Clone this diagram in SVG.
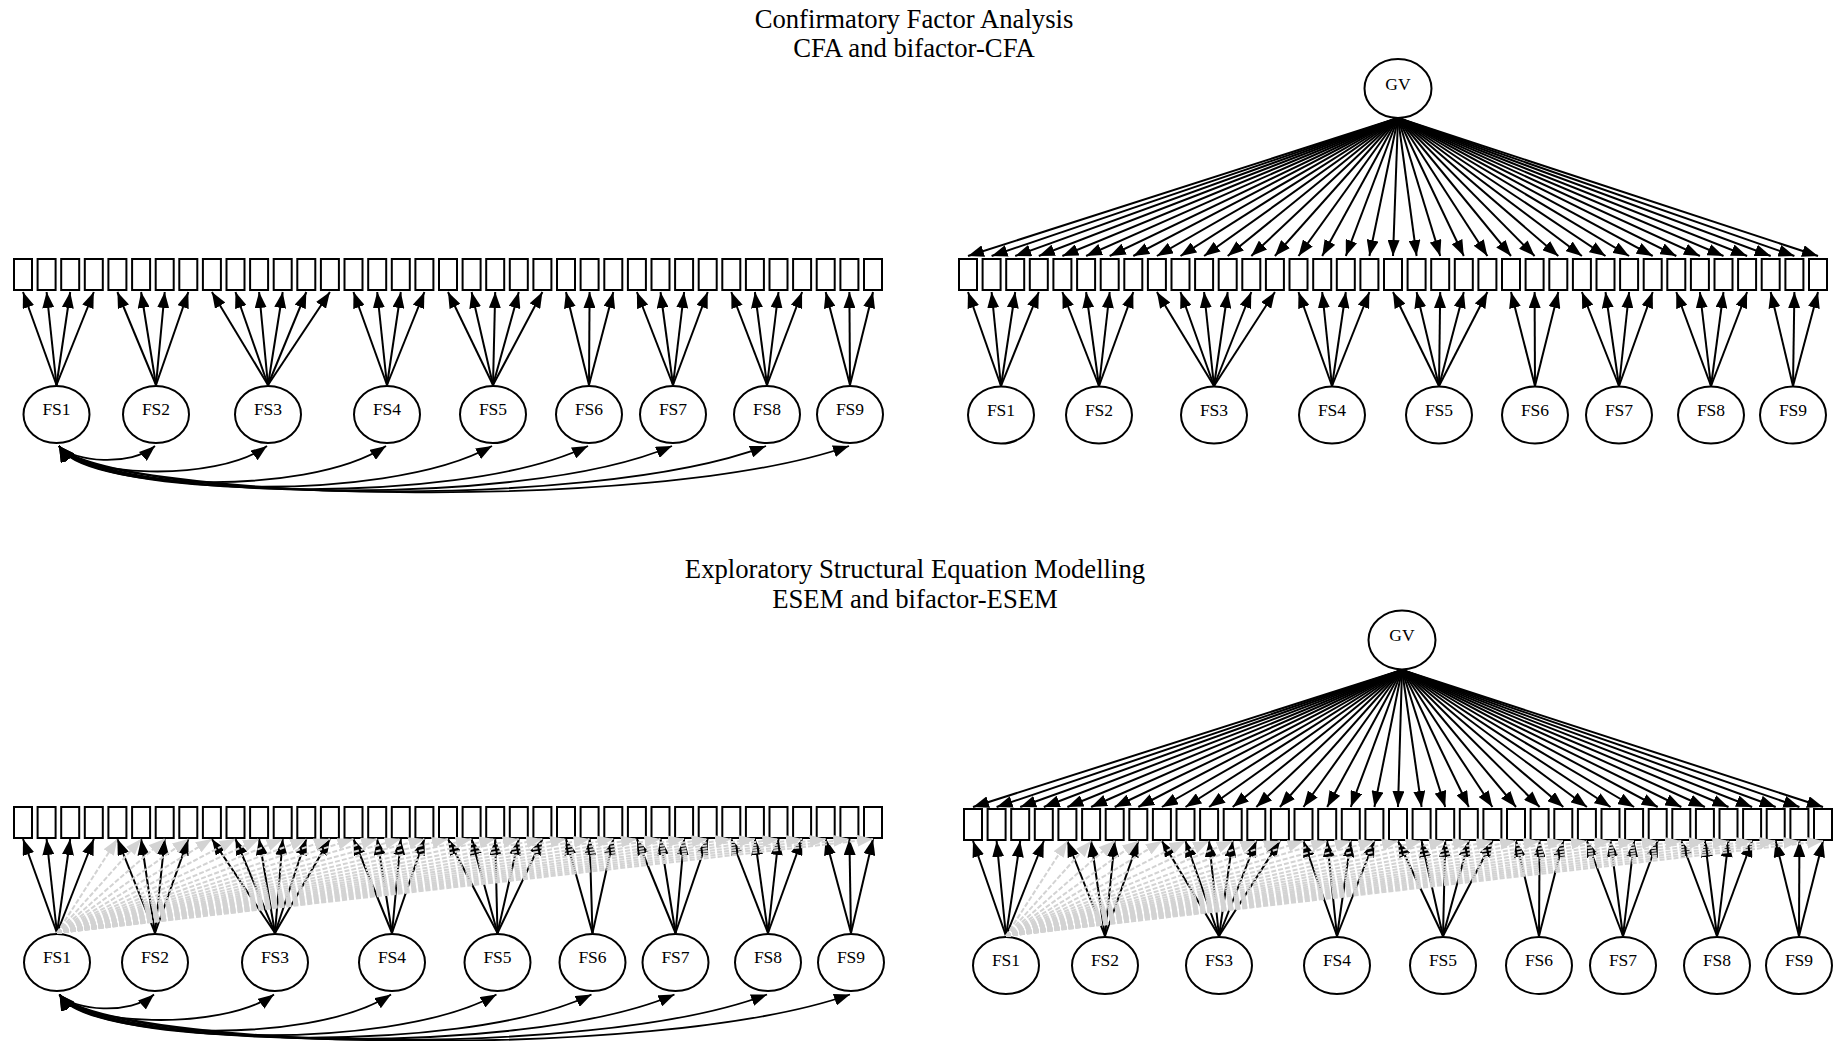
<svg xmlns="http://www.w3.org/2000/svg" xmlns:xlink="http://www.w3.org/1999/xlink" width="1836" height="1041" viewBox="0 0 1836 1041">
<style>
.box{fill:#fff;stroke:#000;stroke-width:2}
.lv{fill:#fff;stroke:#000;stroke-width:2}
.lbl{font-family:"Liberation Serif","Times New Roman",serif;font-size:17.5px;text-anchor:middle;fill:#000}
.ttl{font-family:"Liberation Serif","Times New Roman",serif;font-size:26.7px;text-anchor:middle;fill:#000}
.ld{stroke:#000;stroke-width:2;fill:none;marker-end:url(#ah)}
.cv{stroke:#000;stroke-width:1.8;fill:none;marker-start:url(#ahs);marker-end:url(#ah)}
.xl{stroke:#d3d3d3;stroke-width:2;stroke-dasharray:5 2;fill:none;marker-end:url(#ahg)}
</style>
<defs>
<rect id="bx" class="box" width="18" height="31"/>
<marker id="ah" viewBox="0 0 16 12" refX="16" refY="6" markerWidth="16" markerHeight="12" markerUnits="userSpaceOnUse" orient="auto"><path d="M0,0L16,6L0,12z" fill="#000"/></marker>
<marker id="ahs" viewBox="0 0 16 12" refX="16" refY="6" markerWidth="16" markerHeight="12" markerUnits="userSpaceOnUse" orient="auto-start-reverse"><path d="M0,0L16,6L0,12z" fill="#000"/></marker>
<marker id="ahg" viewBox="0 0 16 12" refX="16" refY="6" markerWidth="16" markerHeight="12" markerUnits="userSpaceOnUse" orient="auto"><path d="M0,0L16,6L0,12z" fill="#d3d3d3"/></marker>
</defs>
<rect width="1836" height="1041" fill="#fff"/>
<g id="titles">
<text class="ttl" x="914" y="28">Confirmatory Factor Analysis</text>
<text class="ttl" x="914" y="57">CFA and bifactor-CFA</text>
<text class="ttl" x="915" y="578">Exploratory Structural Equation Modelling</text>
<text class="ttl" x="915" y="608">ESEM and bifactor-ESEM</text>
</g>
<g id="cfa">
<g id="cfa-y1"><use href="#bx" x="14" y="259"/></g>
<g id="cfa-y2"><use href="#bx" x="37.6" y="259"/></g>
<g id="cfa-y3"><use href="#bx" x="61.2" y="259"/></g>
<g id="cfa-y4"><use href="#bx" x="84.8" y="259"/></g>
<g id="cfa-y5"><use href="#bx" x="108.4" y="259"/></g>
<g id="cfa-y6"><use href="#bx" x="132.1" y="259"/></g>
<g id="cfa-y7"><use href="#bx" x="155.7" y="259"/></g>
<g id="cfa-y8"><use href="#bx" x="179.3" y="259"/></g>
<g id="cfa-y9"><use href="#bx" x="202.9" y="259"/></g>
<g id="cfa-y10"><use href="#bx" x="226.5" y="259"/></g>
<g id="cfa-y11"><use href="#bx" x="250.1" y="259"/></g>
<g id="cfa-y12"><use href="#bx" x="273.7" y="259"/></g>
<g id="cfa-y13"><use href="#bx" x="297.3" y="259"/></g>
<g id="cfa-y14"><use href="#bx" x="320.9" y="259"/></g>
<g id="cfa-y15"><use href="#bx" x="344.5" y="259"/></g>
<g id="cfa-y16"><use href="#bx" x="368.2" y="259"/></g>
<g id="cfa-y17"><use href="#bx" x="391.8" y="259"/></g>
<g id="cfa-y18"><use href="#bx" x="415.4" y="259"/></g>
<g id="cfa-y19"><use href="#bx" x="439" y="259"/></g>
<g id="cfa-y20"><use href="#bx" x="462.6" y="259"/></g>
<g id="cfa-y21"><use href="#bx" x="486.2" y="259"/></g>
<g id="cfa-y22"><use href="#bx" x="509.8" y="259"/></g>
<g id="cfa-y23"><use href="#bx" x="533.4" y="259"/></g>
<g id="cfa-y24"><use href="#bx" x="557" y="259"/></g>
<g id="cfa-y25"><use href="#bx" x="580.6" y="259"/></g>
<g id="cfa-y26"><use href="#bx" x="604.3" y="259"/></g>
<g id="cfa-y27"><use href="#bx" x="627.9" y="259"/></g>
<g id="cfa-y28"><use href="#bx" x="651.5" y="259"/></g>
<g id="cfa-y29"><use href="#bx" x="675.1" y="259"/></g>
<g id="cfa-y30"><use href="#bx" x="698.7" y="259"/></g>
<g id="cfa-y31"><use href="#bx" x="722.3" y="259"/></g>
<g id="cfa-y32"><use href="#bx" x="745.9" y="259"/></g>
<g id="cfa-y33"><use href="#bx" x="769.5" y="259"/></g>
<g id="cfa-y34"><use href="#bx" x="793.1" y="259"/></g>
<g id="cfa-y35"><use href="#bx" x="816.7" y="259"/></g>
<g id="cfa-y36"><use href="#bx" x="840.4" y="259"/></g>
<g id="cfa-y37"><use href="#bx" x="864" y="259"/></g>
<g id="cfa-FS1"><ellipse class="lv" cx="56.5" cy="414.5" rx="33" ry="28.5"/><text class="lbl" x="56.5" y="415">FS1</text></g>
<g id="cfa-FS2"><ellipse class="lv" cx="156" cy="414.5" rx="33" ry="28.5"/><text class="lbl" x="156" y="415">FS2</text></g>
<g id="cfa-FS3"><ellipse class="lv" cx="268" cy="414.5" rx="33" ry="28.5"/><text class="lbl" x="268" y="415">FS3</text></g>
<g id="cfa-FS4"><ellipse class="lv" cx="387" cy="414.5" rx="33" ry="28.5"/><text class="lbl" x="387" y="415">FS4</text></g>
<g id="cfa-FS5"><ellipse class="lv" cx="493" cy="414.5" rx="33" ry="28.5"/><text class="lbl" x="493" y="415">FS5</text></g>
<g id="cfa-FS6"><ellipse class="lv" cx="589" cy="414.5" rx="33" ry="28.5"/><text class="lbl" x="589" y="415">FS6</text></g>
<g id="cfa-FS7"><ellipse class="lv" cx="673" cy="414.5" rx="33" ry="28.5"/><text class="lbl" x="673" y="415">FS7</text></g>
<g id="cfa-FS8"><ellipse class="lv" cx="767" cy="414.5" rx="33" ry="28.5"/><text class="lbl" x="767" y="415">FS8</text></g>
<g id="cfa-FS9"><ellipse class="lv" cx="850" cy="414.5" rx="33" ry="28.5"/><text class="lbl" x="850" y="415">FS9</text></g>
</g>
<g id="bcfa">
<g id="bcfa-y1"><use href="#bx" x="959" y="259"/></g>
<g id="bcfa-y2"><use href="#bx" x="982.6" y="259"/></g>
<g id="bcfa-y3"><use href="#bx" x="1006.2" y="259"/></g>
<g id="bcfa-y4"><use href="#bx" x="1029.8" y="259"/></g>
<g id="bcfa-y5"><use href="#bx" x="1053.4" y="259"/></g>
<g id="bcfa-y6"><use href="#bx" x="1077.1" y="259"/></g>
<g id="bcfa-y7"><use href="#bx" x="1100.7" y="259"/></g>
<g id="bcfa-y8"><use href="#bx" x="1124.3" y="259"/></g>
<g id="bcfa-y9"><use href="#bx" x="1147.9" y="259"/></g>
<g id="bcfa-y10"><use href="#bx" x="1171.5" y="259"/></g>
<g id="bcfa-y11"><use href="#bx" x="1195.1" y="259"/></g>
<g id="bcfa-y12"><use href="#bx" x="1218.7" y="259"/></g>
<g id="bcfa-y13"><use href="#bx" x="1242.3" y="259"/></g>
<g id="bcfa-y14"><use href="#bx" x="1265.9" y="259"/></g>
<g id="bcfa-y15"><use href="#bx" x="1289.5" y="259"/></g>
<g id="bcfa-y16"><use href="#bx" x="1313.2" y="259"/></g>
<g id="bcfa-y17"><use href="#bx" x="1336.8" y="259"/></g>
<g id="bcfa-y18"><use href="#bx" x="1360.4" y="259"/></g>
<g id="bcfa-y19"><use href="#bx" x="1384" y="259"/></g>
<g id="bcfa-y20"><use href="#bx" x="1407.6" y="259"/></g>
<g id="bcfa-y21"><use href="#bx" x="1431.2" y="259"/></g>
<g id="bcfa-y22"><use href="#bx" x="1454.8" y="259"/></g>
<g id="bcfa-y23"><use href="#bx" x="1478.4" y="259"/></g>
<g id="bcfa-y24"><use href="#bx" x="1502" y="259"/></g>
<g id="bcfa-y25"><use href="#bx" x="1525.6" y="259"/></g>
<g id="bcfa-y26"><use href="#bx" x="1549.3" y="259"/></g>
<g id="bcfa-y27"><use href="#bx" x="1572.9" y="259"/></g>
<g id="bcfa-y28"><use href="#bx" x="1596.5" y="259"/></g>
<g id="bcfa-y29"><use href="#bx" x="1620.1" y="259"/></g>
<g id="bcfa-y30"><use href="#bx" x="1643.7" y="259"/></g>
<g id="bcfa-y31"><use href="#bx" x="1667.3" y="259"/></g>
<g id="bcfa-y32"><use href="#bx" x="1690.9" y="259"/></g>
<g id="bcfa-y33"><use href="#bx" x="1714.5" y="259"/></g>
<g id="bcfa-y34"><use href="#bx" x="1738.1" y="259"/></g>
<g id="bcfa-y35"><use href="#bx" x="1761.7" y="259"/></g>
<g id="bcfa-y36"><use href="#bx" x="1785.4" y="259"/></g>
<g id="bcfa-y37"><use href="#bx" x="1809" y="259"/></g>
<g id="bcfa-GV"><ellipse class="lv" cx="1398" cy="88.5" rx="33.5" ry="29.5"/><text class="lbl" x="1398" y="89.5">GV</text></g>
<g id="bcfa-FS1"><ellipse class="lv" cx="1001" cy="415" rx="33" ry="28.5"/><text class="lbl" x="1001" y="415.5">FS1</text></g>
<g id="bcfa-FS2"><ellipse class="lv" cx="1099" cy="415" rx="33" ry="28.5"/><text class="lbl" x="1099" y="415.5">FS2</text></g>
<g id="bcfa-FS3"><ellipse class="lv" cx="1214" cy="415" rx="33" ry="28.5"/><text class="lbl" x="1214" y="415.5">FS3</text></g>
<g id="bcfa-FS4"><ellipse class="lv" cx="1332" cy="415" rx="33" ry="28.5"/><text class="lbl" x="1332" y="415.5">FS4</text></g>
<g id="bcfa-FS5"><ellipse class="lv" cx="1439" cy="415" rx="33" ry="28.5"/><text class="lbl" x="1439" y="415.5">FS5</text></g>
<g id="bcfa-FS6"><ellipse class="lv" cx="1535" cy="415" rx="33" ry="28.5"/><text class="lbl" x="1535" y="415.5">FS6</text></g>
<g id="bcfa-FS7"><ellipse class="lv" cx="1619" cy="415" rx="33" ry="28.5"/><text class="lbl" x="1619" y="415.5">FS7</text></g>
<g id="bcfa-FS8"><ellipse class="lv" cx="1711" cy="415" rx="33" ry="28.5"/><text class="lbl" x="1711" y="415.5">FS8</text></g>
<g id="bcfa-FS9"><ellipse class="lv" cx="1793" cy="415" rx="33" ry="28.5"/><text class="lbl" x="1793" y="415.5">FS9</text></g>
</g>
<g id="esem">
<g id="esem-y1"><use href="#bx" x="14" y="807"/></g>
<g id="esem-y2"><use href="#bx" x="37.6" y="807"/></g>
<g id="esem-y3"><use href="#bx" x="61.2" y="807"/></g>
<g id="esem-y4"><use href="#bx" x="84.8" y="807"/></g>
<g id="esem-y5"><use href="#bx" x="108.4" y="807"/></g>
<g id="esem-y6"><use href="#bx" x="132.1" y="807"/></g>
<g id="esem-y7"><use href="#bx" x="155.7" y="807"/></g>
<g id="esem-y8"><use href="#bx" x="179.3" y="807"/></g>
<g id="esem-y9"><use href="#bx" x="202.9" y="807"/></g>
<g id="esem-y10"><use href="#bx" x="226.5" y="807"/></g>
<g id="esem-y11"><use href="#bx" x="250.1" y="807"/></g>
<g id="esem-y12"><use href="#bx" x="273.7" y="807"/></g>
<g id="esem-y13"><use href="#bx" x="297.3" y="807"/></g>
<g id="esem-y14"><use href="#bx" x="320.9" y="807"/></g>
<g id="esem-y15"><use href="#bx" x="344.5" y="807"/></g>
<g id="esem-y16"><use href="#bx" x="368.2" y="807"/></g>
<g id="esem-y17"><use href="#bx" x="391.8" y="807"/></g>
<g id="esem-y18"><use href="#bx" x="415.4" y="807"/></g>
<g id="esem-y19"><use href="#bx" x="439" y="807"/></g>
<g id="esem-y20"><use href="#bx" x="462.6" y="807"/></g>
<g id="esem-y21"><use href="#bx" x="486.2" y="807"/></g>
<g id="esem-y22"><use href="#bx" x="509.8" y="807"/></g>
<g id="esem-y23"><use href="#bx" x="533.4" y="807"/></g>
<g id="esem-y24"><use href="#bx" x="557" y="807"/></g>
<g id="esem-y25"><use href="#bx" x="580.6" y="807"/></g>
<g id="esem-y26"><use href="#bx" x="604.3" y="807"/></g>
<g id="esem-y27"><use href="#bx" x="627.9" y="807"/></g>
<g id="esem-y28"><use href="#bx" x="651.5" y="807"/></g>
<g id="esem-y29"><use href="#bx" x="675.1" y="807"/></g>
<g id="esem-y30"><use href="#bx" x="698.7" y="807"/></g>
<g id="esem-y31"><use href="#bx" x="722.3" y="807"/></g>
<g id="esem-y32"><use href="#bx" x="745.9" y="807"/></g>
<g id="esem-y33"><use href="#bx" x="769.5" y="807"/></g>
<g id="esem-y34"><use href="#bx" x="793.1" y="807"/></g>
<g id="esem-y35"><use href="#bx" x="816.7" y="807"/></g>
<g id="esem-y36"><use href="#bx" x="840.4" y="807"/></g>
<g id="esem-y37"><use href="#bx" x="864" y="807"/></g>
<g id="esem-FS1"><ellipse class="lv" cx="57" cy="962.5" rx="33" ry="28.5"/><text class="lbl" x="57" y="963">FS1</text></g>
<g id="esem-FS2"><ellipse class="lv" cx="155" cy="962.5" rx="33" ry="28.5"/><text class="lbl" x="155" y="963">FS2</text></g>
<g id="esem-FS3"><ellipse class="lv" cx="275" cy="962.5" rx="33" ry="28.5"/><text class="lbl" x="275" y="963">FS3</text></g>
<g id="esem-FS4"><ellipse class="lv" cx="392" cy="962.5" rx="33" ry="28.5"/><text class="lbl" x="392" y="963">FS4</text></g>
<g id="esem-FS5"><ellipse class="lv" cx="497.5" cy="962.5" rx="33" ry="28.5"/><text class="lbl" x="497.5" y="963">FS5</text></g>
<g id="esem-FS6"><ellipse class="lv" cx="592.5" cy="962.5" rx="33" ry="28.5"/><text class="lbl" x="592.5" y="963">FS6</text></g>
<g id="esem-FS7"><ellipse class="lv" cx="675.5" cy="962.5" rx="33" ry="28.5"/><text class="lbl" x="675.5" y="963">FS7</text></g>
<g id="esem-FS8"><ellipse class="lv" cx="768" cy="962.5" rx="33" ry="28.5"/><text class="lbl" x="768" y="963">FS8</text></g>
<g id="esem-FS9"><ellipse class="lv" cx="851" cy="962.5" rx="33" ry="28.5"/><text class="lbl" x="851" y="963">FS9</text></g>
</g>
<g id="besem">
<g id="besem-y1"><use href="#bx" x="964" y="809"/></g>
<g id="besem-y2"><use href="#bx" x="987.6" y="809"/></g>
<g id="besem-y3"><use href="#bx" x="1011.2" y="809"/></g>
<g id="besem-y4"><use href="#bx" x="1034.8" y="809"/></g>
<g id="besem-y5"><use href="#bx" x="1058.4" y="809"/></g>
<g id="besem-y6"><use href="#bx" x="1082.1" y="809"/></g>
<g id="besem-y7"><use href="#bx" x="1105.7" y="809"/></g>
<g id="besem-y8"><use href="#bx" x="1129.3" y="809"/></g>
<g id="besem-y9"><use href="#bx" x="1152.9" y="809"/></g>
<g id="besem-y10"><use href="#bx" x="1176.5" y="809"/></g>
<g id="besem-y11"><use href="#bx" x="1200.1" y="809"/></g>
<g id="besem-y12"><use href="#bx" x="1223.7" y="809"/></g>
<g id="besem-y13"><use href="#bx" x="1247.3" y="809"/></g>
<g id="besem-y14"><use href="#bx" x="1270.9" y="809"/></g>
<g id="besem-y15"><use href="#bx" x="1294.5" y="809"/></g>
<g id="besem-y16"><use href="#bx" x="1318.2" y="809"/></g>
<g id="besem-y17"><use href="#bx" x="1341.8" y="809"/></g>
<g id="besem-y18"><use href="#bx" x="1365.4" y="809"/></g>
<g id="besem-y19"><use href="#bx" x="1389" y="809"/></g>
<g id="besem-y20"><use href="#bx" x="1412.6" y="809"/></g>
<g id="besem-y21"><use href="#bx" x="1436.2" y="809"/></g>
<g id="besem-y22"><use href="#bx" x="1459.8" y="809"/></g>
<g id="besem-y23"><use href="#bx" x="1483.4" y="809"/></g>
<g id="besem-y24"><use href="#bx" x="1507" y="809"/></g>
<g id="besem-y25"><use href="#bx" x="1530.6" y="809"/></g>
<g id="besem-y26"><use href="#bx" x="1554.3" y="809"/></g>
<g id="besem-y27"><use href="#bx" x="1577.9" y="809"/></g>
<g id="besem-y28"><use href="#bx" x="1601.5" y="809"/></g>
<g id="besem-y29"><use href="#bx" x="1625.1" y="809"/></g>
<g id="besem-y30"><use href="#bx" x="1648.7" y="809"/></g>
<g id="besem-y31"><use href="#bx" x="1672.3" y="809"/></g>
<g id="besem-y32"><use href="#bx" x="1695.9" y="809"/></g>
<g id="besem-y33"><use href="#bx" x="1719.5" y="809"/></g>
<g id="besem-y34"><use href="#bx" x="1743.1" y="809"/></g>
<g id="besem-y35"><use href="#bx" x="1766.7" y="809"/></g>
<g id="besem-y36"><use href="#bx" x="1790.4" y="809"/></g>
<g id="besem-y37"><use href="#bx" x="1814" y="809"/></g>
<g id="besem-GV"><ellipse class="lv" cx="1402" cy="640" rx="33.5" ry="29.5"/><text class="lbl" x="1402" y="641">GV</text></g>
<g id="besem-FS1"><ellipse class="lv" cx="1006" cy="965.5" rx="33" ry="28.5"/><text class="lbl" x="1006" y="966">FS1</text></g>
<g id="besem-FS2"><ellipse class="lv" cx="1105" cy="965.5" rx="33" ry="28.5"/><text class="lbl" x="1105" y="966">FS2</text></g>
<g id="besem-FS3"><ellipse class="lv" cx="1219" cy="965.5" rx="33" ry="28.5"/><text class="lbl" x="1219" y="966">FS3</text></g>
<g id="besem-FS4"><ellipse class="lv" cx="1337" cy="965.5" rx="33" ry="28.5"/><text class="lbl" x="1337" y="966">FS4</text></g>
<g id="besem-FS5"><ellipse class="lv" cx="1443" cy="965.5" rx="33" ry="28.5"/><text class="lbl" x="1443" y="966">FS5</text></g>
<g id="besem-FS6"><ellipse class="lv" cx="1539" cy="965.5" rx="33" ry="28.5"/><text class="lbl" x="1539" y="966">FS6</text></g>
<g id="besem-FS7"><ellipse class="lv" cx="1623" cy="965.5" rx="33" ry="28.5"/><text class="lbl" x="1623" y="966">FS7</text></g>
<g id="besem-FS8"><ellipse class="lv" cx="1717" cy="965.5" rx="33" ry="28.5"/><text class="lbl" x="1717" y="966">FS8</text></g>
<g id="besem-FS9"><ellipse class="lv" cx="1799" cy="965.5" rx="33" ry="28.5"/><text class="lbl" x="1799" y="966">FS9</text></g>
</g>
<g id="connectors">
<g id="cfa-loadings">
<path class="ld" d="M56.5 385L23 292"/><path class="ld" d="M56.5 385L46.6 292"/><path class="ld" d="M56.5 385L70.2 292"/><path class="ld" d="M56.5 385L93.8 292"/>
<path class="ld" d="M156 385L117.4 292"/><path class="ld" d="M156 385L141.1 292"/><path class="ld" d="M156 385L164.7 292"/><path class="ld" d="M156 385L188.3 292"/>
<path class="ld" d="M268 385L211.9 292"/><path class="ld" d="M268 385L235.5 292"/><path class="ld" d="M268 385L259.1 292"/><path class="ld" d="M268 385L282.7 292"/><path class="ld" d="M268 385L306.3 292"/><path class="ld" d="M268 385L329.9 292"/>
<path class="ld" d="M387 385L353.5 292"/><path class="ld" d="M387 385L377.2 292"/><path class="ld" d="M387 385L400.8 292"/><path class="ld" d="M387 385L424.4 292"/>
<path class="ld" d="M493 385L448 292"/><path class="ld" d="M493 385L471.6 292"/><path class="ld" d="M493 385L495.2 292"/><path class="ld" d="M493 385L518.8 292"/><path class="ld" d="M493 385L542.4 292"/>
<path class="ld" d="M589 385L566 292"/><path class="ld" d="M589 385L589.6 292"/><path class="ld" d="M589 385L613.3 292"/>
<path class="ld" d="M673 385L636.9 292"/><path class="ld" d="M673 385L660.5 292"/><path class="ld" d="M673 385L684.1 292"/><path class="ld" d="M673 385L707.7 292"/>
<path class="ld" d="M767 385L731.3 292"/><path class="ld" d="M767 385L754.9 292"/><path class="ld" d="M767 385L778.5 292"/><path class="ld" d="M767 385L802.1 292"/>
<path class="ld" d="M850 385L825.7 292"/><path class="ld" d="M850 385L849.4 292"/><path class="ld" d="M850 385L873 292"/>
</g>
<g id="cfa-covariances">
<path class="cv" d="M59 446C74 462.2 131 466.7 155 446"/>
<path class="cv" d="M59 446C74 475.7 215 484 267 446"/>
<path class="cv" d="M59 446C80.3 488.1 304.2 499.8 386 446"/>
<path class="cv" d="M59 446C87.1 493.5 383.7 506.7 492 446"/>
<path class="cv" d="M59 446C93.4 496.2 455.7 510.2 588 446"/>
<path class="cv" d="M59 446C98.8 497.8 518.7 512.2 672 446"/>
<path class="cv" d="M59 446C105 498.9 589.2 513.6 766 446"/>
<path class="cv" d="M59 446C110.4 500 651.5 515 849 446"/>
</g>
<g id="bcfa-general">
<path class="ld" d="M1398 118L968 256"/><path class="ld" d="M1398 118L991.6 256"/><path class="ld" d="M1398 118L1015.2 256"/><path class="ld" d="M1398 118L1038.8 256"/><path class="ld" d="M1398 118L1062.4 256"/><path class="ld" d="M1398 118L1086.1 256"/><path class="ld" d="M1398 118L1109.7 256"/><path class="ld" d="M1398 118L1133.3 256"/><path class="ld" d="M1398 118L1156.9 256"/><path class="ld" d="M1398 118L1180.5 256"/><path class="ld" d="M1398 118L1204.1 256"/><path class="ld" d="M1398 118L1227.7 256"/><path class="ld" d="M1398 118L1251.3 256"/><path class="ld" d="M1398 118L1274.9 256"/><path class="ld" d="M1398 118L1298.5 256"/><path class="ld" d="M1398 118L1322.2 256"/><path class="ld" d="M1398 118L1345.8 256"/><path class="ld" d="M1398 118L1369.4 256"/><path class="ld" d="M1398 118L1393 256"/><path class="ld" d="M1398 118L1416.6 256"/><path class="ld" d="M1398 118L1440.2 256"/><path class="ld" d="M1398 118L1463.8 256"/><path class="ld" d="M1398 118L1487.4 256"/><path class="ld" d="M1398 118L1511 256"/><path class="ld" d="M1398 118L1534.6 256"/><path class="ld" d="M1398 118L1558.3 256"/><path class="ld" d="M1398 118L1581.9 256"/><path class="ld" d="M1398 118L1605.5 256"/><path class="ld" d="M1398 118L1629.1 256"/><path class="ld" d="M1398 118L1652.7 256"/><path class="ld" d="M1398 118L1676.3 256"/><path class="ld" d="M1398 118L1699.9 256"/><path class="ld" d="M1398 118L1723.5 256"/><path class="ld" d="M1398 118L1747.1 256"/><path class="ld" d="M1398 118L1770.7 256"/><path class="ld" d="M1398 118L1794.4 256"/><path class="ld" d="M1398 118L1818 256"/>
</g>
<g id="bcfa-loadings">
<path class="ld" d="M1001 386L968 292"/><path class="ld" d="M1001 386L991.6 292"/><path class="ld" d="M1001 386L1015.2 292"/><path class="ld" d="M1001 386L1038.8 292"/>
<path class="ld" d="M1099 386L1062.4 292"/><path class="ld" d="M1099 386L1086.1 292"/><path class="ld" d="M1099 386L1109.7 292"/><path class="ld" d="M1099 386L1133.3 292"/>
<path class="ld" d="M1214 386L1156.9 292"/><path class="ld" d="M1214 386L1180.5 292"/><path class="ld" d="M1214 386L1204.1 292"/><path class="ld" d="M1214 386L1227.7 292"/><path class="ld" d="M1214 386L1251.3 292"/><path class="ld" d="M1214 386L1274.9 292"/>
<path class="ld" d="M1332 386L1298.5 292"/><path class="ld" d="M1332 386L1322.2 292"/><path class="ld" d="M1332 386L1345.8 292"/><path class="ld" d="M1332 386L1369.4 292"/>
<path class="ld" d="M1439 386L1393 292"/><path class="ld" d="M1439 386L1416.6 292"/><path class="ld" d="M1439 386L1440.2 292"/><path class="ld" d="M1439 386L1463.8 292"/><path class="ld" d="M1439 386L1487.4 292"/>
<path class="ld" d="M1535 386L1511 292"/><path class="ld" d="M1535 386L1534.6 292"/><path class="ld" d="M1535 386L1558.3 292"/>
<path class="ld" d="M1619 386L1581.9 292"/><path class="ld" d="M1619 386L1605.5 292"/><path class="ld" d="M1619 386L1629.1 292"/><path class="ld" d="M1619 386L1652.7 292"/>
<path class="ld" d="M1711 386L1676.3 292"/><path class="ld" d="M1711 386L1699.9 292"/><path class="ld" d="M1711 386L1723.5 292"/><path class="ld" d="M1711 386L1747.1 292"/>
<path class="ld" d="M1793 386L1770.7 292"/><path class="ld" d="M1793 386L1794.4 292"/><path class="ld" d="M1793 386L1818 292"/>
</g>
<g id="esem-loadings">
<path class="ld" d="M57 933L23 839"/><path class="ld" d="M57 933L46.6 839"/><path class="ld" d="M57 933L70.2 839"/><path class="ld" d="M57 933L93.8 839"/>
<path class="ld" d="M155 933L117.4 839"/><path class="ld" d="M155 933L141.1 839"/><path class="ld" d="M155 933L164.7 839"/><path class="ld" d="M155 933L188.3 839"/>
<path class="ld" d="M275 933L211.9 839"/><path class="ld" d="M275 933L235.5 839"/><path class="ld" d="M275 933L259.1 839"/><path class="ld" d="M275 933L282.7 839"/><path class="ld" d="M275 933L306.3 839"/><path class="ld" d="M275 933L329.9 839"/>
<path class="ld" d="M392 933L353.5 839"/><path class="ld" d="M392 933L377.2 839"/><path class="ld" d="M392 933L400.8 839"/><path class="ld" d="M392 933L424.4 839"/>
<path class="ld" d="M497.5 933L448 839"/><path class="ld" d="M497.5 933L471.6 839"/><path class="ld" d="M497.5 933L495.2 839"/><path class="ld" d="M497.5 933L518.8 839"/><path class="ld" d="M497.5 933L542.4 839"/>
<path class="ld" d="M592.5 933L566 839"/><path class="ld" d="M592.5 933L589.6 839"/><path class="ld" d="M592.5 933L613.3 839"/>
<path class="ld" d="M675.5 933L636.9 839"/><path class="ld" d="M675.5 933L660.5 839"/><path class="ld" d="M675.5 933L684.1 839"/><path class="ld" d="M675.5 933L707.7 839"/>
<path class="ld" d="M768 933L731.3 839"/><path class="ld" d="M768 933L754.9 839"/><path class="ld" d="M768 933L778.5 839"/><path class="ld" d="M768 933L802.1 839"/>
<path class="ld" d="M851 933L825.7 839"/><path class="ld" d="M851 933L849.4 839"/><path class="ld" d="M851 933L873 839"/>
</g>
<g id="esem-crossloadings">
<path class="xl" d="M57 933L117.4 839"/><path class="xl" d="M57 933L141.1 839"/><path class="xl" d="M57 933L164.7 839"/><path class="xl" d="M57 933L188.3 839"/><path class="xl" d="M57 933L211.9 839"/><path class="xl" d="M57 933L235.5 839"/><path class="xl" d="M57 933L259.1 839"/><path class="xl" d="M57 933L282.7 839"/><path class="xl" d="M57 933L306.3 839"/><path class="xl" d="M57 933L329.9 839"/><path class="xl" d="M57 933L353.5 839"/><path class="xl" d="M57 933L377.2 839"/><path class="xl" d="M57 933L400.8 839"/><path class="xl" d="M57 933L424.4 839"/><path class="xl" d="M57 933L448 839"/><path class="xl" d="M57 933L471.6 839"/><path class="xl" d="M57 933L495.2 839"/><path class="xl" d="M57 933L518.8 839"/><path class="xl" d="M57 933L542.4 839"/><path class="xl" d="M57 933L566 839"/><path class="xl" d="M57 933L589.6 839"/><path class="xl" d="M57 933L613.3 839"/><path class="xl" d="M57 933L636.9 839"/><path class="xl" d="M57 933L660.5 839"/><path class="xl" d="M57 933L684.1 839"/><path class="xl" d="M57 933L707.7 839"/><path class="xl" d="M57 933L731.3 839"/><path class="xl" d="M57 933L754.9 839"/><path class="xl" d="M57 933L778.5 839"/><path class="xl" d="M57 933L802.1 839"/><path class="xl" d="M57 933L825.7 839"/><path class="xl" d="M57 933L849.4 839"/><path class="xl" d="M57 933L873 839"/>
</g>
<g id="esem-covariances">
<path class="cv" d="M59.5 994.5C74 1010.7 130.2 1015.2 154 994.5"/>
<path class="cv" d="M59.5 994.5C74 1024.2 220.2 1032.5 274 994.5"/>
<path class="cv" d="M59.5 994.5C80.6 1036.6 308 1048.3 391 994.5"/>
<path class="cv" d="M59.5 994.5C87.4 1042 387.1 1055.2 496.5 994.5"/>
<path class="cv" d="M59.5 994.5C93.6 1044.7 458.4 1058.7 591.5 994.5"/>
<path class="cv" d="M59.5 994.5C99 1046.3 520.6 1060.7 674.5 994.5"/>
<path class="cv" d="M59.5 994.5C105 1047.4 590 1062.1 767 994.5"/>
<path class="cv" d="M59.5 994.5C110.4 1048.5 652.2 1063.5 850 994.5"/>
</g>
<g id="besem-general">
<path class="ld" d="M1402 670L973 807"/><path class="ld" d="M1402 670L996.6 807"/><path class="ld" d="M1402 670L1020.2 807"/><path class="ld" d="M1402 670L1043.8 807"/><path class="ld" d="M1402 670L1067.4 807"/><path class="ld" d="M1402 670L1091.1 807"/><path class="ld" d="M1402 670L1114.7 807"/><path class="ld" d="M1402 670L1138.3 807"/><path class="ld" d="M1402 670L1161.9 807"/><path class="ld" d="M1402 670L1185.5 807"/><path class="ld" d="M1402 670L1209.1 807"/><path class="ld" d="M1402 670L1232.7 807"/><path class="ld" d="M1402 670L1256.3 807"/><path class="ld" d="M1402 670L1279.9 807"/><path class="ld" d="M1402 670L1303.5 807"/><path class="ld" d="M1402 670L1327.2 807"/><path class="ld" d="M1402 670L1350.8 807"/><path class="ld" d="M1402 670L1374.4 807"/><path class="ld" d="M1402 670L1398 807"/><path class="ld" d="M1402 670L1421.6 807"/><path class="ld" d="M1402 670L1445.2 807"/><path class="ld" d="M1402 670L1468.8 807"/><path class="ld" d="M1402 670L1492.4 807"/><path class="ld" d="M1402 670L1516 807"/><path class="ld" d="M1402 670L1539.6 807"/><path class="ld" d="M1402 670L1563.3 807"/><path class="ld" d="M1402 670L1586.9 807"/><path class="ld" d="M1402 670L1610.5 807"/><path class="ld" d="M1402 670L1634.1 807"/><path class="ld" d="M1402 670L1657.7 807"/><path class="ld" d="M1402 670L1681.3 807"/><path class="ld" d="M1402 670L1704.9 807"/><path class="ld" d="M1402 670L1728.5 807"/><path class="ld" d="M1402 670L1752.1 807"/><path class="ld" d="M1402 670L1775.7 807"/><path class="ld" d="M1402 670L1799.4 807"/><path class="ld" d="M1402 670L1823 807"/>
</g>
<g id="besem-loadings">
<path class="ld" d="M1006 936L973 841"/><path class="ld" d="M1006 936L996.6 841"/><path class="ld" d="M1006 936L1020.2 841"/><path class="ld" d="M1006 936L1043.8 841"/>
<path class="ld" d="M1105 936L1067.4 841"/><path class="ld" d="M1105 936L1091.1 841"/><path class="ld" d="M1105 936L1114.7 841"/><path class="ld" d="M1105 936L1138.3 841"/>
<path class="ld" d="M1219 936L1161.9 841"/><path class="ld" d="M1219 936L1185.5 841"/><path class="ld" d="M1219 936L1209.1 841"/><path class="ld" d="M1219 936L1232.7 841"/><path class="ld" d="M1219 936L1256.3 841"/><path class="ld" d="M1219 936L1279.9 841"/>
<path class="ld" d="M1337 936L1303.5 841"/><path class="ld" d="M1337 936L1327.2 841"/><path class="ld" d="M1337 936L1350.8 841"/><path class="ld" d="M1337 936L1374.4 841"/>
<path class="ld" d="M1443 936L1398 841"/><path class="ld" d="M1443 936L1421.6 841"/><path class="ld" d="M1443 936L1445.2 841"/><path class="ld" d="M1443 936L1468.8 841"/><path class="ld" d="M1443 936L1492.4 841"/>
<path class="ld" d="M1539 936L1516 841"/><path class="ld" d="M1539 936L1539.6 841"/><path class="ld" d="M1539 936L1563.3 841"/>
<path class="ld" d="M1623 936L1586.9 841"/><path class="ld" d="M1623 936L1610.5 841"/><path class="ld" d="M1623 936L1634.1 841"/><path class="ld" d="M1623 936L1657.7 841"/>
<path class="ld" d="M1717 936L1681.3 841"/><path class="ld" d="M1717 936L1704.9 841"/><path class="ld" d="M1717 936L1728.5 841"/><path class="ld" d="M1717 936L1752.1 841"/>
<path class="ld" d="M1799 936L1775.7 841"/><path class="ld" d="M1799 936L1799.4 841"/><path class="ld" d="M1799 936L1823 841"/>
</g>
<g id="besem-crossloadings">
<path class="xl" d="M1006 936L1067.4 841"/><path class="xl" d="M1006 936L1091.1 841"/><path class="xl" d="M1006 936L1114.7 841"/><path class="xl" d="M1006 936L1138.3 841"/><path class="xl" d="M1006 936L1161.9 841"/><path class="xl" d="M1006 936L1185.5 841"/><path class="xl" d="M1006 936L1209.1 841"/><path class="xl" d="M1006 936L1232.7 841"/><path class="xl" d="M1006 936L1256.3 841"/><path class="xl" d="M1006 936L1279.9 841"/><path class="xl" d="M1006 936L1303.5 841"/><path class="xl" d="M1006 936L1327.2 841"/><path class="xl" d="M1006 936L1350.8 841"/><path class="xl" d="M1006 936L1374.4 841"/><path class="xl" d="M1006 936L1398 841"/><path class="xl" d="M1006 936L1421.6 841"/><path class="xl" d="M1006 936L1445.2 841"/><path class="xl" d="M1006 936L1468.8 841"/><path class="xl" d="M1006 936L1492.4 841"/><path class="xl" d="M1006 936L1516 841"/><path class="xl" d="M1006 936L1539.6 841"/><path class="xl" d="M1006 936L1563.3 841"/><path class="xl" d="M1006 936L1586.9 841"/><path class="xl" d="M1006 936L1610.5 841"/><path class="xl" d="M1006 936L1634.1 841"/><path class="xl" d="M1006 936L1657.7 841"/><path class="xl" d="M1006 936L1681.3 841"/><path class="xl" d="M1006 936L1704.9 841"/><path class="xl" d="M1006 936L1728.5 841"/><path class="xl" d="M1006 936L1752.1 841"/><path class="xl" d="M1006 936L1775.7 841"/><path class="xl" d="M1006 936L1799.4 841"/><path class="xl" d="M1006 936L1823 841"/>
</g>
</g>
</svg>
